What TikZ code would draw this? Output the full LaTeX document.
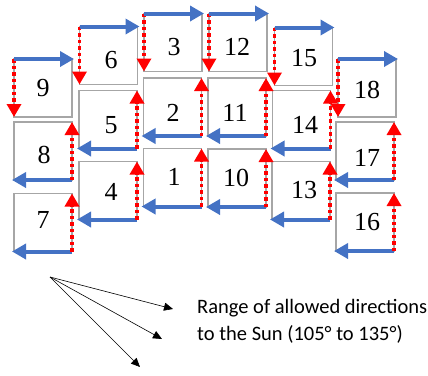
\documentclass[tikz,border=0pt]{standalone}
\usepackage{fontspec}
\setmainfont{Liberation Serif}
\newfontfamily\numfont{Liberation Serif}
\newfontfamily\legendfont{Carlito}
\usetikzlibrary{arrows.meta}
\definecolor{blueA}{HTML}{4472C4}
\definecolor{grayB}{HTML}{A6A6A6}
\begin{document}
\begin{tikzpicture}[x=1pt,y=-1pt,
  box/.style={draw=grayB, line width=1.1pt, minimum width=58pt, minimum height=58pt, inner sep=0pt, outer sep=0pt},
  num/.style={font=\numfont\fontsize{26}{26}\selectfont, inner sep=0pt},
  bluearr/.style={draw=blueA, line width=4pt, -{Triangle[length=14pt,width=15pt]}},
  redarr/.style={draw=red, line width=3.5pt, dash pattern=on 3.5pt off 3pt, -{Triangle[length=13pt,width=14pt]}},
  sunarr/.style={draw=black, line width=0.6pt, -{Triangle[length=9pt,width=8pt]}},
  legendtext/.style={anchor=base west, inner sep=0pt, font=\legendfont\fontsize{20.5}{24}\selectfont}
]
\useasboundingbox (0,0) rectangle (428,375);
% boxes
\foreach \n/\x/\y in {9/43/88, 6/108.5/55.5, 3/173/42.5, 12/238/42.5, 15/303.5/56.5, 18/367/88,
                      8/43/151, 5/108/119.5, 2/172.5/107, 11/237/107, 14/301.5/119.5, 17/365/151,
                      7/43/222.5, 4/108/190.5, 1/172.5/177.5, 10/237/178, 13/301/190.5, 16/365/222}
  {\node[box] (b\n) at (\x,\y) {};}
% numbers
\foreach \n/\x/\y in {9/43/88, 6/111/60, 3/174/47, 12/237/47, 15/304/58, 18/367/90,
                      8/44/155, 5/111/125, 2/173/113, 11/235/113, 14/305/125, 17/367/158,
                      7/43/220, 4/111/192, 1/174/177, 10/236/178, 13/304/190, 16/367/222}
  {\node[num] (n\n) at (\x,\y) {\n};}
% top row arrows
\foreach \n in {9,6,3,12,15,18} {
  \draw[redarr] (b\n.north west) -- (b\n.south west);
  \draw[bluearr] (b\n.north west) -- ([xshift=2pt]b\n.north east);
}
% lower rows arrows
\foreach \n in {8,5,2,11,14,17,7,4,1,10,13,16} {
  \draw[bluearr] (b\n.south east) -- ([xshift=-2pt]b\n.south west);
  \draw[redarr] (b\n.south east) -- (b\n.north east);
}
% sun directions
\coordinate (o) at (50,277);
\coordinate (t1) at (173,309);
\coordinate (t2) at (162,339);
\coordinate (t3) at (140,367);
\draw[sunarr] (o) -- (t1);
\draw[sunarr] (o) -- (t2);
\draw[sunarr] (o) -- (t3);
\node[legendtext] (leg1) at (197,313) {Range of allowed directions};
\node[legendtext] (leg2) at (197,340) {to the Sun (105° to 135°)};
\end{tikzpicture}
\end{document}
